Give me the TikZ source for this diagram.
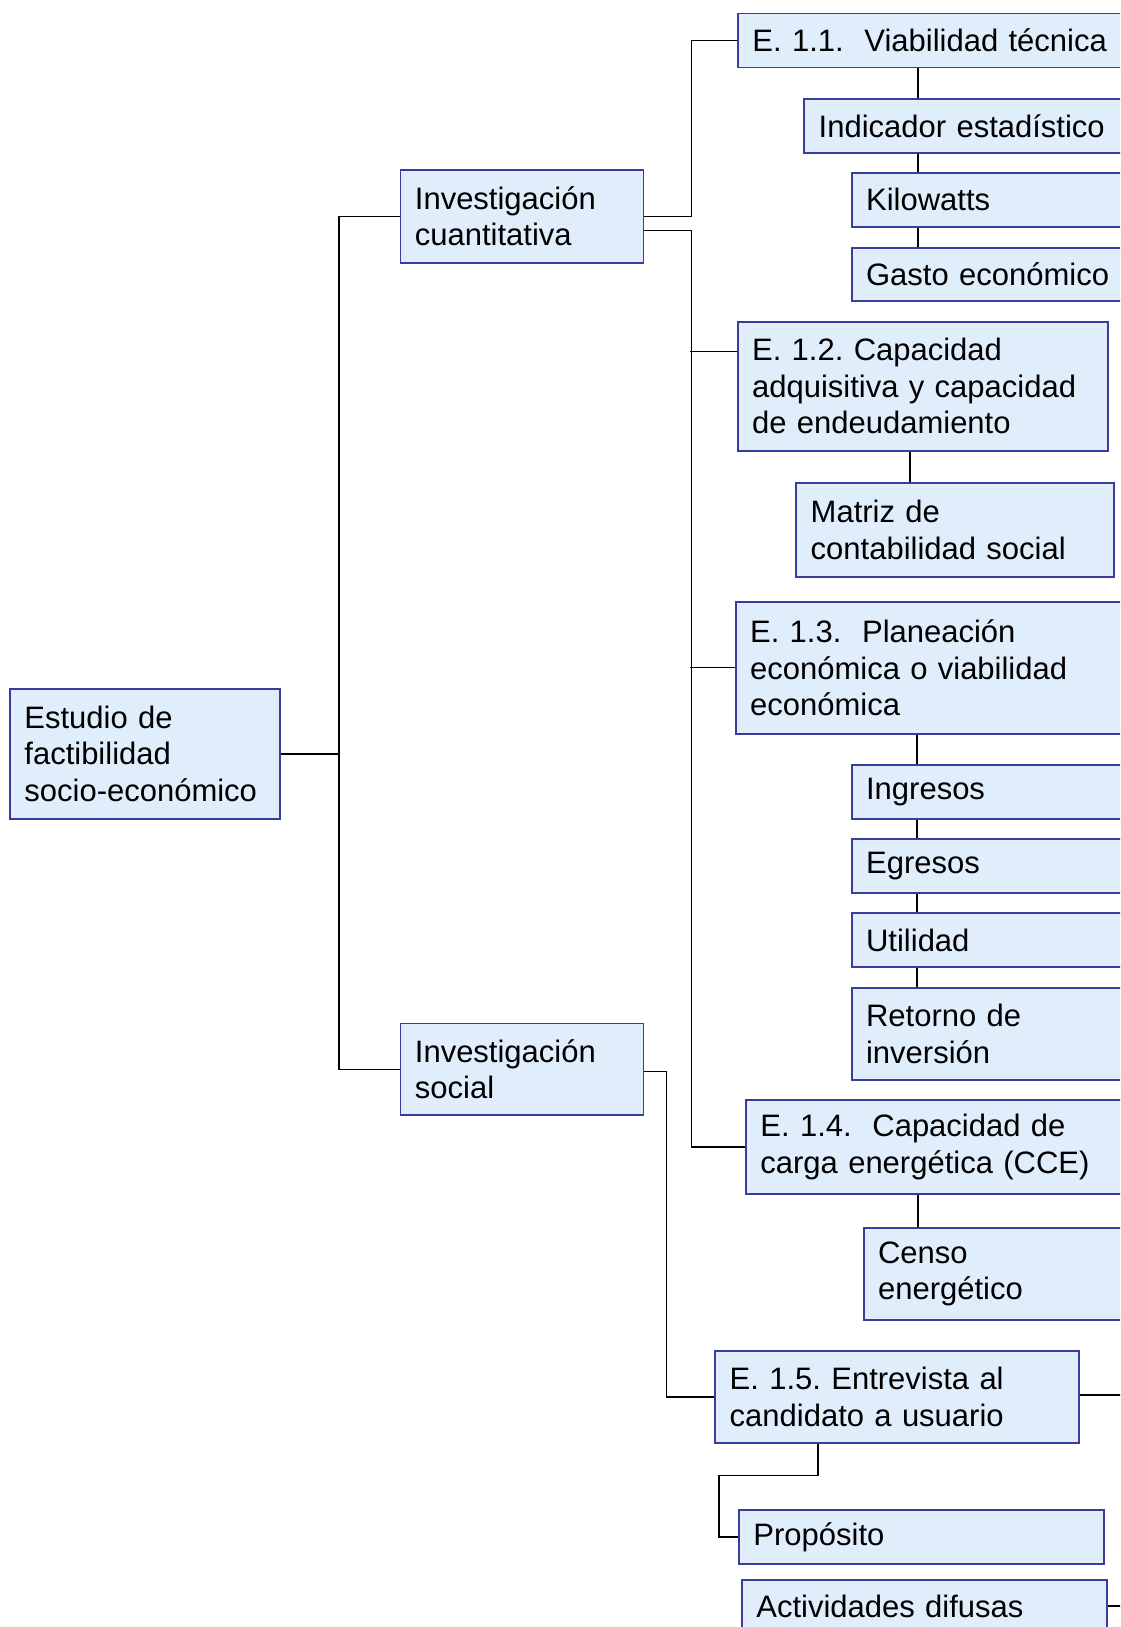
\documentclass[tikz,border=0pt]{standalone}
\usepackage{fontspec}
\setmainfont{Liberation Sans}
\usepackage{tikz}
\usepackage{xcolor}
\definecolor{fondocaja}{RGB}{224,238,252}
\definecolor{bordecaja}{RGB}{60,60,158}
\frenchspacing

\begin{document}
\begin{tikzpicture}[x=1pt, y=-1pt,
	caja/.style={draw=bordecaja, fill=fondocaja, line width=1.8pt, anchor=north west, align=left,
		inner xsep=14.5pt, inner ysep=0pt, font=\fontsize{31}{36.5}\selectfont},
	linea/.style={line width=1.3pt, black}]
	\useasboundingbox (0,0) rectangle (1120,1627);
	\clip (0,0) rectangle (1120,1627);

	% cajas
	\node[caja, text width=241pt, minimum height=130pt] (estudio) at (9,688) {Estudio de\\factibilidad\\socio-económico};
	\node[caja, text width=214pt, minimum height=92.5pt] (cuant) at (399.5,169.3) {Investigación\\cuantitativa};
	\node[caja, text width=214pt, minimum height=91.5pt] (social) at (399.5,1022.5) {Investigación\\social};
	\node[caja, text width=371pt, minimum height=54pt] (e11) at (737,12.7) {E. 1.1.\ \ Viabilidad técnica};
	\node[caja, text width=298pt, minimum height=53.4pt] (indic) at (803.3,98.3) {Indicador estadístico};
	\node[caja, text width=251pt, minimum height=53.4pt] (kw) at (850.7,172.3) {Kilowatts};
	\node[caja, text width=251pt, minimum height=53.3pt] (gasto) at (850.7,246.7) {Gasto económico};
	\node[caja, text width=341pt, minimum height=129.3pt] (e12) at (736.7,320.7) {E. 1.2. Capacidad\\adquisitiva y capacidad\\de endeudamiento};
	\node[caja, text width=289pt, minimum height=94pt] (matriz) at (795.3,482) {Matriz de\\contabilidad social};
	\node[caja, text width=366pt, minimum height=131.7pt] (e13) at (734.7,601) {E. 1.3.\ \ Planeación\\económica o viabilidad\\económica};
	\node[caja, text width=251pt, minimum height=54pt] (ingresos) at (850.7,764.3) {Ingresos};
	\node[caja, text width=251pt, minimum height=54pt] (egresos) at (850.7,838.3) {Egresos};
	\node[caja, text width=251pt, minimum height=54pt] (utilidad) at (850.7,912.3) {Utilidad};
	\node[caja, text width=251pt, minimum height=92.3pt] (retorno) at (850.7,986.7) {Retorno de\\inversión};
	\node[caja, text width=356pt, minimum height=94pt] (e14) at (745,1099) {E. 1.4.\ \ Capacidad de\\carga energética (CCE)};
	\node[caja, text width=241pt, minimum height=92pt] (censo) at (862.7,1227) {Censo\\energético};
	\node[caja, text width=335pt, minimum height=92pt] (e15) at (714.3,1350) {E. 1.5. Entrevista al\\candidato a usuario};
	\node[caja, text width=336pt, minimum height=54pt] (proposito) at (738,1509) {Propósito};
	\node[caja, text width=336pt, minimum height=52pt] (actividades) at (741,1579) {Actividades difusas};

	% conectores
	\coordinate (b1) at (339,0);
	\coordinate (vA) at (918,0);
	\coordinate (vB) at (910,0);
	\coordinate (vC) at (917,0);
	\coordinate (vD) at (818,0);
	\draw[linea] (estudio.east) -- (estudio.east -| b1);
	\draw[linea] (cuant.west) -| (b1 |- social.west) -- (social.west);
	\draw[linea] (cuant.east) -- ++(47,0) |- (e11.west);
	\draw[linea] ([yshift=-14pt]cuant.east) -- ++(47,0) |- (e14.west);
	\draw[linea] ([yshift=35pt]e12.west) -- ++(-47,0);
	\draw[linea] (e13.west) -- ++(-45,0);
	\foreach \a/\b in {e11/indic, indic/kw, kw/gasto, e14/censo}
	{
		\draw[linea] (\a.south -| vA) -- (\b.north -| vA);
	}
	\foreach \a/\b in {e13/ingresos, ingresos/egresos, egresos/utilidad, utilidad/retorno}
	{
		\draw[linea] (\a.south -| vC) -- (\b.north -| vC);
	}
	\draw[linea] (e12.south -| vB) -- (matriz.north -| vB);
	\draw[linea] ([yshift=-2pt]social.east) -- ++(22,0) |- (e15.west);
	\draw[linea] ([yshift=2pt]e15.east) -- ++(60,0);
	\draw[linea] (e15.south -| vD) -- ++(0,32) -| ([xshift=-19pt]proposito.west) -- (proposito.west);
	\draw[linea] (actividades.east) -- ++(30,0);
\end{tikzpicture}
\end{document}
